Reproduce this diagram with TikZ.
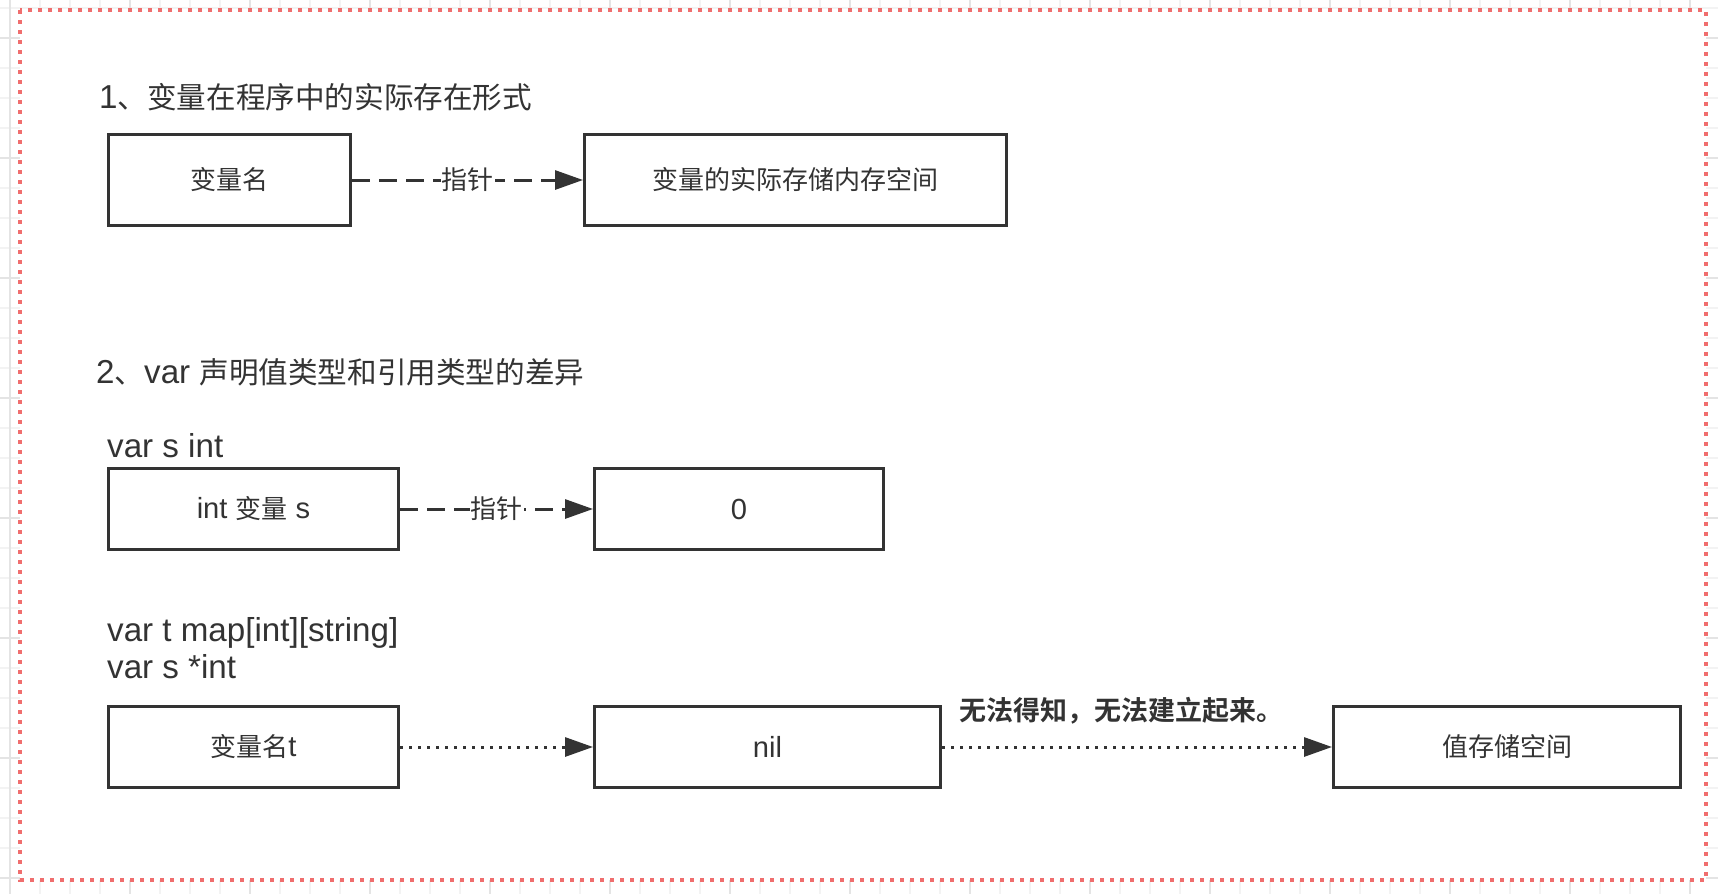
\documentclass[tikz,border=0pt]{standalone}
\usepackage{fontspec}
\setmainfont{Liberation Sans}[Scale=1.12]
\newfontfamily\cjk{Noto Sans CJK SC}[BoldFont={Noto Sans CJK SC Bold}]
\usetikzlibrary{arrows.meta,positioning}
\definecolor{InkGray}{RGB}{51,51,51}
\definecolor{GridMinor}{RGB}{243,243,243}
\definecolor{GridMajor}{RGB}{228,228,228}
\definecolor{FrameRed}{RGB}{240,110,110}
\tikzset{
  membox/.style={draw=InkGray,line width=3pt,fill=white,inner sep=0pt,
    minimum height=81pt,text=InkGray,font=\fontsize{26}{30}\selectfont},
  heading/.style={anchor=west,inner sep=0pt,text=InkGray,
    font=\fontsize{29.6}{37}\selectfont},
  ptrarrow/.style={-{Triangle[length=28pt,width=19pt]},line width=3pt,
    InkGray,dash pattern=on 18pt off 9pt},
  nilarrow/.style={-{Triangle[length=28pt,width=19pt]},line width=3pt,
    InkGray,dash pattern=on 3pt off 6pt},
  ptrlabel/.style={fill=white,inner sep=1pt,text=InkGray,
    font=\fontsize{26}{30}\selectfont\cjk}
}

\begin{document}
\begin{tikzpicture}[x=1pt,y=-1pt]
  \useasboundingbox (0,0) rectangle (1718,894);
  % canvas grid
  \foreach \gx in {10,40,...,1718}
    \draw[GridMinor,line width=1.5pt] (\gx,0) -- (\gx,894);
  \foreach \gy in {8,38,...,894}
    \draw[GridMinor,line width=1.5pt] (0,\gy) -- (1718,\gy);
  \foreach \gx in {10,130,...,1718}
    \draw[GridMajor,line width=1.5pt] (\gx,0) -- (\gx,894);
  \foreach \gy in {38,158,...,894}
    \draw[GridMajor,line width=1.5pt] (0,\gy) -- (1718,\gy);
  % frame
  \draw[FrameRed,line width=4pt,dash pattern=on 4pt off 6pt,fill=white]
    (20,10) rectangle (1706,880);

  % part 1
  \node[heading] (title1) at (99,97) {1{\cjk 、变量在程序中的实际存在形式}};
  \node[membox,minimum width=242pt,minimum height=91pt] (varname) at (229.5,180) {\cjk 变量名};
  \node[membox,minimum width=422pt,minimum height=91pt,right=231pt of varname] (varmem) {\cjk 变量的实际存储内存空间};
  \draw[ptrarrow] (varname) -- node[ptrlabel]{指针} (varmem);

  % part 2
  \node[heading] (title2) at (96,372) {2{\cjk 、}var {\cjk 声明值类型和引用类型的差异}};
  \node[heading] (decl1) at (107,446) {var s int};
  \node[membox,minimum width=290pt] (intvar) at (253.5,509) {int {\cjk 变量} s};
  \node[membox,minimum width=289pt,right=193pt of intvar] (zero) {0};
  \draw[ptrarrow] (intvar) -- node[ptrlabel]{指针} (zero);

  \node[heading,align=left] (decl2) at (107,648.5) {var t map[int][string]\\var s *int};
  \node[membox,minimum width=290pt] (mapvar) at (253.5,747) {{\cjk 变量名}t};
  \node[membox,minimum width=346pt,right=193pt of mapvar] (nilval) {nil};
  \node[membox,minimum width=347pt,right=390pt of nilval] (valmem) {\cjk 值存储空间};
  \draw[nilarrow] (mapvar) -- (nilval);
  \draw[nilarrow] (nilval) -- node[pos=0.46,above=21pt,inner sep=0pt,text=InkGray,
    font=\fontsize{27}{30}\selectfont\cjk\bfseries]{无法得知，无法建立起来。} (valmem);
\end{tikzpicture}
\end{document}
